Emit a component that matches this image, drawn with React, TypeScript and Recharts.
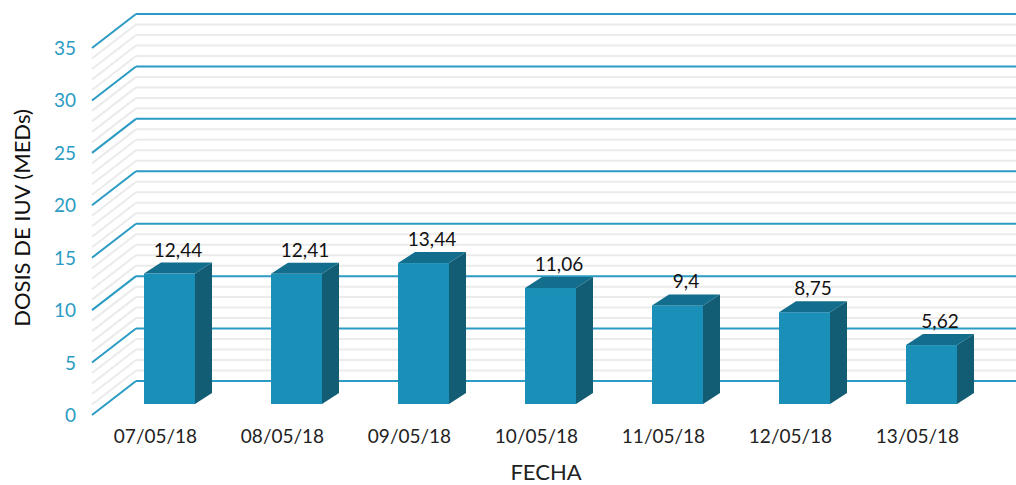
import { BarChart, Bar, XAxis, YAxis, ReferenceLine } from "recharts";

// Dosis diaria
const fechas = ["07/05/18", "08/05/18", "09/05/18", "10/05/18", "11/05/18", "12/05/18", "13/05/18"];
const dosis = [12.44, 12.41, 13.44, 11.06, 9.4, 8.75, 5.62];
const yTicks = [0, 5, 10, 15, 20, 25, 30, 35];
const minorValues = Array.from({ length: 36 }, (_, i) => i).filter((v) => v % 5 !== 0);

const data = fechas.map((fecha, i) => ({ fecha, dosis: dosis[i] }));

const BLUE = "#2b9bc3";
const FONT = "Lato, 'Open Sans', sans-serif";

// 3D offsets
const WALL_X = 44;
const WALL_Y = -34;
const BAR_OFF_X = 14;
const BAR_OFF_Y = -11;
const DEPTH_X = 17;
const DEPTH_Y = -11;

const fmt = (v: number) => String(v).replace(".", ",");

function gridShape(major: boolean) {
    return (p: any) => {
        const { x1, y1, x2 } = p;
        const bx = x1 + WALL_X;
        const by = y1 + WALL_Y;
        const stroke = major ? BLUE : "#ebebeb";
        return (
            <g>
                <line x1={x1} y1={y1} x2={bx} y2={by} stroke={stroke} strokeWidth={2} />
                <line x1={bx} y1={by} x2={x2 + WALL_X} y2={by} stroke={stroke} strokeWidth={2} />
            </g>
        );
    };
}

function Bar3D(p: any) {
    const { x, y, width, height, value } = p;
    const fx = x + BAR_OFF_X;
    const fy = y + BAR_OFF_Y;
    const top = `${fx},${fy} ${fx + DEPTH_X},${fy + DEPTH_Y} ${fx + width + DEPTH_X},${fy + DEPTH_Y} ${fx + width},${fy}`;
    const side = `${fx + width},${fy} ${fx + width + DEPTH_X},${fy + DEPTH_Y} ${fx + width + DEPTH_X},${fy + height + DEPTH_Y} ${fx + width},${fy + height}`;
    return (
        <g>
            <rect x={fx} y={fy} width={width} height={height} fill="#1a8fb8" />
            <polygon points={side} fill="#125c74" />
            <polygon points={top} fill="#136d8c" />
            <text
                x={fx + width / 2 + DEPTH_X / 2}
                y={fy + DEPTH_Y - 6}
                textAnchor="middle"
                fontFamily={FONT}
                fontSize={19}
                fill="#111"
            >
                {fmt(value)}
            </text>
        </g>
    );
}

function YTick(p: any) {
    const { x, y, payload } = p;
    return (
        <text x={x - 16} y={y + 7} textAnchor="end" fontFamily={FONT} fontSize={19} fill={BLUE}>
            {payload.value}
        </text>
    );
}

function XTick(p: any) {
    const { x, y, payload } = p;
    return (
        <text x={x} y={y + 28} textAnchor="middle" fontFamily={FONT} fontSize={19} fill="#222">
            {payload.value}
        </text>
    );
}

export default function App() {
    return (
        <div style={{ position: "absolute", left: 0, top: 0, width: 1016, height: 485, background: "#fff" }}>
            <BarChart
                width={1016}
                height={485}
                data={data}
                margin={{ top: 48, right: 35, bottom: 0, left: 0 }}
            >
                <XAxis
                    dataKey="fecha"
                    axisLine={false}
                    tickLine={false}
                    tickSize={0}
                    tickMargin={0}
                    height={70}
                    tick={<XTick />}
                    interval={0}
                />
                <YAxis
                    domain={[0, 35]}
                    ticks={yTicks}
                    axisLine={false}
                    tickLine={false}
                    tickSize={0}
                    tickMargin={0}
                    width={92}
                    tick={<YTick />}
                />
                {minorValues.map((v) => (
                    <ReferenceLine key={"m" + v} y={v} zIndex={-60} shape={gridShape(false)} />
                ))}
                {yTicks.map((v) => (
                    <ReferenceLine key={"M" + v} y={v} zIndex={-50} shape={gridShape(true)} />
                ))}
                <Bar dataKey="dosis" barSize={51} shape={<Bar3D />} isAnimationActive={false} />
                <text
                    x={21}
                    y={218}
                    transform="rotate(-90 21 218)"
                    textAnchor="middle"
                    dominantBaseline="central"
                    fontFamily={FONT}
                    fontSize={22}
                    fill="#111"
                >
                    DOSIS DE IUV (MEDs)
                </text>
                <text x={546} y={480} textAnchor="middle" fontFamily={FONT} fontSize={22} fill="#222">
                    FECHA
                </text>
            </BarChart>
        </div>
    );
}
